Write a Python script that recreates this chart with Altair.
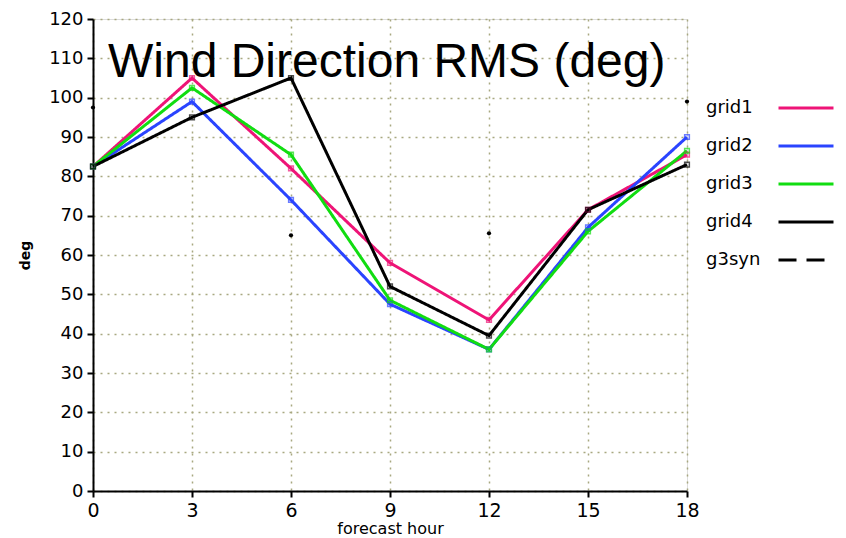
import altair as alt
import pandas as pd

title_text = "Wind Direction RMS (deg)"
hours = [0, 3, 6, 9, 12, 15, 18]
grid1 = [82.5, 105.0, 82.0, 58.0, 43.5, 71.5, 85.5]
grid2 = [82.5, 99.0, 74.0, 47.5, 36.0, 67.0, 90.0]
grid3 = [82.5, 102.5, 85.5, 48.5, 36.0, 66.0, 86.5]
grid4 = [82.5, 95.0, 105.0, 52.0, 39.5, 71.5, 83.0]
g3syn_hours = [0, 6, 12, 18]
g3syn = [97.5, 65.0, 65.5, 99.0]

series_names = ["grid1", "grid2", "grid3", "grid4", "g3syn"]
series_colors = ["#ee1477", "#2a44ff", "#11dd11", "#000000", "#000000"]
series_dash = [[1, 0], [1, 0], [1, 0], [1, 0], [18, 10]]
y_ticks = list(range(0, 121, 10))

rows = []
for name, vals in zip(series_names[:4], [grid1, grid2, grid3, grid4]):
    for h, v in zip(hours, vals):
        rows.append({"hour": h, "value": v, "series": name})
df = pd.DataFrame(rows)
syn = pd.DataFrame({"hour": g3syn_hours, "value": g3syn})
title_df = pd.DataFrame({"t": [title_text]})

label_font = "DejaVu Sans"

xaxis = alt.Axis(
    values=hours, title="forecast hour", labelFontSize=19, titleFontSize=16,
    labelFont=label_font, titleFont=label_font, titleFontWeight="normal",
    labelColor="black", titleColor="black", tickColor="black", tickSize=6,
    tickWidth=2, labelPadding=4, titlePadding=0, domainColor="black",
    domainWidth=2, gridColor="#a8a880", gridDash=[2, 5], gridWidth=1.5,
    labelFlush=False, labelOverlap=False,
)
yaxis = alt.Axis(
    values=y_ticks, title="deg", labelFontSize=18, titleFontSize=14,
    labelFont=label_font, titleFont=label_font, titleFontWeight="bold",
    labelColor="black", titleColor="black", tickColor="black", tickSize=6,
    tickWidth=2, labelPadding=4, titlePadding=16, domainColor="black",
    domainWidth=2, gridColor="#a8a880", gridDash=[2, 5], gridWidth=1.5,
    labelFlush=False, labelOverlap=False,
)
xscale = alt.Scale(domain=[0, 18], nice=False, zero=False)
yscale = alt.Scale(domain=[0, 120], nice=False)

def xenc():
    return alt.X("hour:Q", scale=xscale, axis=xaxis)

def yenc():
    return alt.Y("value:Q", scale=yscale, axis=yaxis)

color_scale = alt.Scale(domain=series_names, range=series_colors)
dash_scale = alt.Scale(domain=series_names, range=series_dash)

lines = alt.Chart(df).mark_line(strokeWidth=3).encode(
    x=xenc(),
    y=yenc(),
    color=alt.Color(
        "series:N", scale=color_scale, title=None,
        legend=alt.Legend(
            orient="none", legendX=684, legendY=60, padding=0,
            symbolType="stroke", symbolSize=3025, symbolStrokeWidth=3,
            rowPadding=alt.ExprRef(expr="-19"), labelAlign="left",
            labelOffset=alt.ExprRef(expr="-129"),
            labelFontSize=18, labelFont=label_font, labelColor="black",
            labelLimit=200,
        ),
    ),
    strokeDash=alt.StrokeDash("series:N", scale=dash_scale, title=None),
    detail="series:N",
)

markers = alt.Chart(df).mark_point(shape="square", filled=False, size=22, strokeWidth=1.5).encode(
    x=xenc(),
    y=yenc(),
    color=alt.Color("series:N", scale=color_scale, legend=None),
)

dots = alt.Chart(syn).mark_point(shape="circle", filled=True, size=18, color="black", opacity=1).encode(
    x=xenc(),
    y=yenc(),
)

title_mark = alt.Chart(title_df).mark_text(
    align="left", baseline="alphabetic", font="Liberation Sans",
    fontSize=48, color="black",
).encode(text="t:N", x=alt.value(15), y=alt.value(58))

chart = alt.layer(lines, markers, dots, title_mark).properties(
    width=594,
    height=472,
    autosize=alt.AutoSizeParams(type="none"),
    padding={"left": 93, "top": 19, "right": 159, "bottom": 47},
).configure_view(
    stroke="black", strokeWidth=2
).configure(background="white")

chart.save("out.html", embed_options={"renderer": "svg", "actions": False})
